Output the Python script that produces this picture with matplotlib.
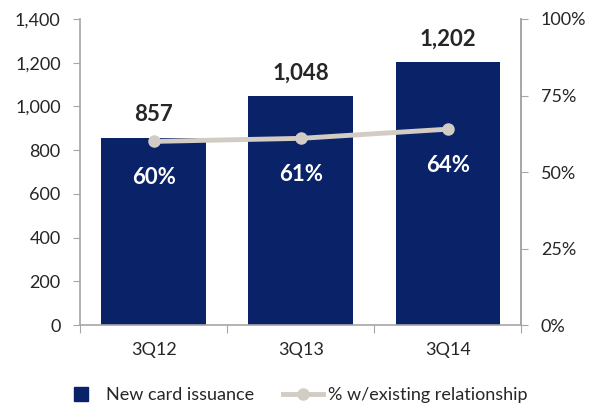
import matplotlib.pyplot as plt
from matplotlib.ticker import FuncFormatter, PercentFormatter
from matplotlib.lines import Line2D

quarters = ["3Q12", "3Q13", "3Q14"]
issuance = [857, 1048, 1202]
pct_existing = [60, 61, 64]

navy = "#0a2268"
beige = "#d3ccc4"
grey = "#a6a6a6"
text_c = "#262626"

plt.rcParams["font.family"] = ["Lato", "DejaVu Sans"]

fig = plt.figure(figsize=(5.89, 4.13), dpi=100)
ax = fig.add_axes([0.136, 0.213, 0.749, 0.741])
x = range(len(quarters))
ax.bar(x, issuance, width=0.71, color=navy, zorder=2)
ax.set_xlim(-0.5, 2.5)
ax.set_ylim(0, 1400)
ax.set_yticks(range(0, 1401, 200))
ax.yaxis.set_major_formatter(FuncFormatter(lambda v, p: f"{int(v):,}"))
ax.set_xticks([-0.5, 0.5, 1.5, 2.5])
ax.set_xticklabels([])
ax.set_xticks(list(x), minor=True)
ax.set_xticklabels(quarters, minor=True)
ax.tick_params(axis="x", which="minor", length=0, pad=12, labelsize=13, labelcolor=text_c)
ax.tick_params(axis="x", which="major", length=6, color=grey)
ax.tick_params(axis="y", length=5, color=grey, labelsize=13, labelcolor=text_c, pad=9)
ax.spines["top"].set_visible(False)
for s in ["left", "right", "bottom"]:
    ax.spines[s].set_color(grey)
    ax.spines[s].set_linewidth(1.2)

for i, v in enumerate(issuance):
    ax.annotate(f"{v:,}", (i, v), xytext=(0, 9), textcoords="offset points",
                ha="center", va="bottom", fontsize=16, fontweight="bold", color=text_c)

ax2 = ax.twinx()
ax2.set_ylim(0, 100)
ax2.set_yticks([0, 25, 50, 75, 100])
ax2.yaxis.set_major_formatter(PercentFormatter(decimals=0))
ax2.plot(list(x), pct_existing, color=beige, lw=3.5, marker="o", ms=8, zorder=3)
ax2.tick_params(axis="y", length=5, color=grey, labelsize=13, labelcolor=text_c, pad=9)
for s in ["top", "left", "bottom"]:
    ax2.spines[s].set_visible(False)
ax2.spines["right"].set_color(grey)
ax2.spines["right"].set_linewidth(1.2)

for i, v in enumerate(pct_existing):
    ax2.annotate(f"{v}%", (i, v), xytext=(0, -26), textcoords="offset points",
                 ha="center", va="center", fontsize=16, fontweight="bold", color="white")

handles = [Line2D([], [], ls="none", marker="s", ms=10, color=navy),
           Line2D([], [], color=beige, lw=3.5, marker="o", ms=8)]
fig.legend(handles, ["New card issuance", "% w/existing relationship"],
           loc="lower center", bbox_to_anchor=(0.5, -0.015), ncol=2, frameon=False,
           fontsize=13, handlelength=2.2, handletextpad=0.3, columnspacing=1.6,
           labelcolor=text_c)

fig.savefig("out.png", dpi=100)
